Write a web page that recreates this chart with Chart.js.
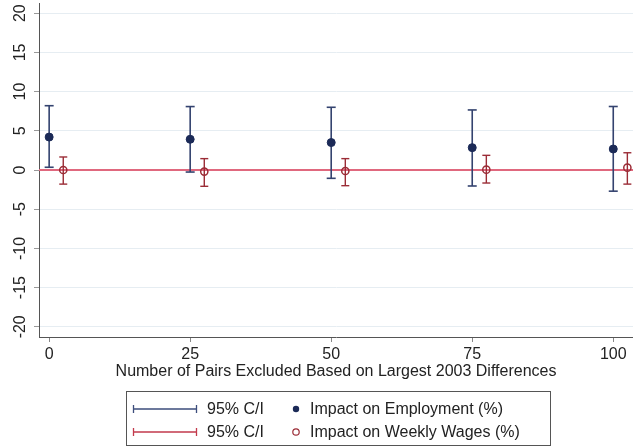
<!DOCTYPE html>
<html>
<head>
<meta charset="utf-8">
<script src="https://cdn.jsdelivr.net/npm/chart.js@4/dist/chart.umd.min.js"></script>
<style>
  html, body { margin: 0; padding: 0; background: #fff; }
  #wrap { width: 633px; height: 447px; position: relative; }
</style>
</head>
<body>
<div id="wrap"><canvas id="chart"></canvas></div>
<script>
// values
const pairsExcluded = [0, 25, 50, 75, 100];
const wageOffset = 2.5;

const empEstimate = [4.2, 3.92, 3.5, 2.85, 2.68];
const empLower = [0.35, -0.26, -1.06, -2.04, -2.7];
const empUpper = [8.2, 8.09, 8.0, 7.66, 8.1];

const wageEstimate = [0.0, -0.2, -0.13, 0.04, 0.3];
const wageLower = [-1.8, -2.08, -2.0, -1.66, -1.8];
const wageUpper = [1.66, 1.45, 1.45, 1.87, 2.2];

const yTicks = [-20, -15, -10, -5, 0, 5, 10, 15, 20];
const xTicks = [0, 25, 50, 75, 100];
const xMin = -1.8, xMax = 103.5;
const yMin = -21.3, yMax = 21.3;

const navy = '#1b2a57';
const navyBar = '#34436f';
const wine = '#9b2c36';
const zeroRed = '#e0687e';

// CI segments: low -> high per point, null between them so they don't join
const ciData = (xs, lo, hi) => {
  const out = [];
  xs.forEach((x, i) => {
    out.push({ x: x, y: lo[i] }, { x: x, y: hi[i] }, { x: x, y: null });
  });
  return out;
};

const wageX = pairsExcluded.map(x => x + wageOffset);

const legendPlugin = {
  id: 'boxLegend',
  afterDraw(chart) {
    const ctx = chart.ctx;
    ctx.save();
    ctx.strokeStyle = '#555';
    ctx.lineWidth = 1;
    ctx.strokeRect(126.5, 391.5, 424, 54);

    const rows = [
      { y: 409, bar: '#3d4d7c', text: 'Impact on Employment (%)', fill: true },
      { y: 432, bar: '#c23a4c', text: 'Impact on Weekly Wages (%)', fill: false }
    ];
    ctx.font = '16px "Liberation Sans", Arial, sans-serif';
    ctx.textBaseline = 'middle';
    rows.forEach(r => {
      ctx.strokeStyle = r.bar;
      ctx.lineWidth = 1.3;
      ctx.beginPath();
      ctx.moveTo(133, r.y); ctx.lineTo(197, r.y);
      ctx.moveTo(133.5, r.y - 4); ctx.lineTo(133.5, r.y + 4);
      ctx.moveTo(196.5, r.y - 4); ctx.lineTo(196.5, r.y + 4);
      ctx.stroke();
      ctx.fillStyle = '#222';
      ctx.fillText('95% C/I', 207, r.y + 1);
      ctx.beginPath();
      ctx.arc(296, r.y, 3.2, 0, Math.PI * 2);
      if (r.fill) { ctx.fillStyle = navy; ctx.fill(); }
      else { ctx.strokeStyle = wine; ctx.lineWidth = 1.2; ctx.stroke(); }
      ctx.fillStyle = '#222';
      ctx.fillText(r.text, 310, r.y + 1);
    });
    ctx.restore();
  }
};

const noPad = s => {
  s.paddingTop = 0; s.paddingBottom = 0; s.paddingLeft = 0; s.paddingRight = 0;
};

new Chart(document.getElementById('chart'), {
  type: 'scatter',
  data: {
    datasets: [
      {
        label: 'Impact on Employment (%)',
        data: pairsExcluded.map((x, i) => ({ x: x, y: empEstimate[i] })),
        backgroundColor: navy,
        borderColor: navy,
        pointRadius: 4,
        order: 0
      },
      {
        label: 'Impact on Weekly Wages (%)',
        data: wageX.map((x, i) => ({ x: x, y: wageEstimate[i] })),
        backgroundColor: 'rgba(255,255,255,0)',
        borderColor: wine,
        borderWidth: 1.5,
        pointRadius: 3.6,
        order: 0
      },
      {
        type: 'line',
        label: '95% C/I emp',
        data: ciData(pairsExcluded, empLower, empUpper),
        borderColor: navyBar,
        borderWidth: 1.6,
        pointStyle: 'line',
        pointRadius: 4.5,
        pointBorderColor: navyBar,
        pointBorderWidth: 1.6,
        showLine: true,
        spanGaps: false,
        order: 1
      },
      {
        type: 'line',
        label: '95% C/I wage',
        data: ciData(wageX, wageLower, wageUpper),
        borderColor: wine,
        borderWidth: 1.4,
        pointStyle: 'line',
        pointRadius: 4,
        pointBorderColor: wine,
        pointBorderWidth: 1.4,
        showLine: true,
        spanGaps: false,
        order: 1
      },
      {
        type: 'line',
        label: 'zero',
        data: [{ x: xMin, y: 0 }, { x: xMax, y: 0 }],
        borderColor: zeroRed,
        borderWidth: 2,
        pointRadius: 0,
        order: 2
      }
    ]
  },
  options: {
    responsive: true,
    maintainAspectRatio: false,
    animation: false,
    layout: { autoPadding: false, padding: { top: 3, right: 0, bottom: 65, left: 0 } },
    plugins: {
      legend: { display: false },
      tooltip: { enabled: false }
    },
    scales: {
      x: {
        type: 'linear',
        min: xMin,
        max: xMax,
        afterBuildTicks: s => { s.ticks = xTicks.map(v => ({ value: v })); },
        afterFit: s => { s.height = 45; noPad(s); },
        grid: { display: true, drawOnChartArea: false, drawTicks: true, tickLength: 5, tickColor: '#888' },
        border: { display: true, color: '#555', width: 1 },
        ticks: {
          color: '#222',
          padding: 3,
          maxRotation: 0,
          font: { family: '"Liberation Sans", Arial, sans-serif', size: 16 }
        },
        title: {
          display: true,
          text: 'Number of Pairs Excluded Based on Largest 2003 Differences',
          color: '#222',
          padding: { top: 0, bottom: 1 },
          font: { family: '"Liberation Sans", Arial, sans-serif', size: 16 }
        }
      },
      y: {
        type: 'linear',
        min: yMin,
        max: yMax,
        afterBuildTicks: s => { s.ticks = yTicks.map(v => ({ value: v })); },
        afterFit: s => { s.width = 39; noPad(s); },
        grid: { color: '#e6edf2', lineWidth: 1, drawTicks: true, tickLength: 5, tickColor: '#999' },
        border: { display: true, color: '#555', width: 1 },
        ticks: {
          color: '#222',
          padding: 2,
          minRotation: 90,
          maxRotation: 90,
          crossAlign: 'center',
          font: { family: '"Liberation Sans", Arial, sans-serif', size: 16 }
        }
      }
    }
  },
  plugins: [legendPlugin]
});
</script>
</body>
</html>
